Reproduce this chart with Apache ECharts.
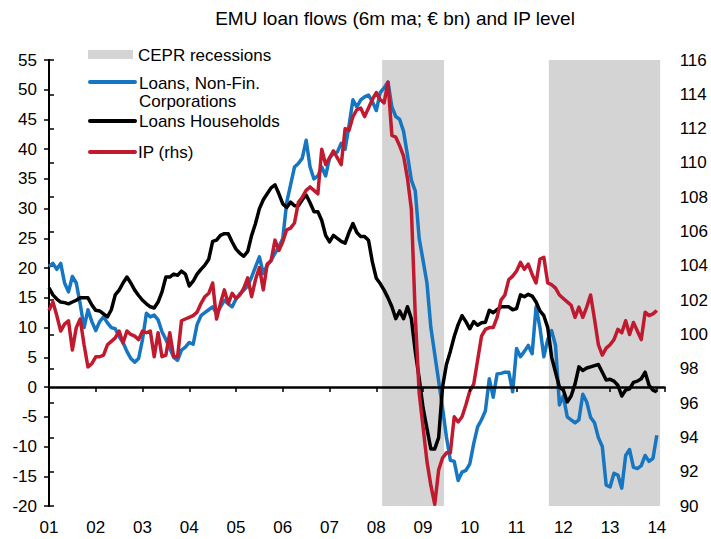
<!DOCTYPE html>
<html>
<head>
<meta charset="utf-8">
<title>EMU loan flows and IP level</title>
<script src="https://cdn.jsdelivr.net/npm/echarts@6/dist/echarts.min.js"></script>
<style>
  html, body { margin: 0; padding: 0; background: #fff; }
  #chart { width: 711px; height: 539px; }
</style>
</head>
<body>
<div id="chart"></div>
<script>
// Monthly observations, January 2001 to January 2014.
const FIRST_YEAR = 2001;
const yearLabels = ['01','02','03','04','05','06','07','08','09','10','11','12','13','14'];

// CEPR euro-area recessions, as decimal years
const recessions = [[2008.125, 2009.45], [2011.69, 2014.07]];

// Loans to non-financial corporations, 6m moving average, EUR bn
const nfcLoans = [
  20.3, 20.8, 19.8, 20.8, 17.5, 16.0, 18.6, 17.5, 14.0, 10.0, 13.0, 11.0,
  9.5, 11.0, 11.8, 10.8, 10.0, 9.8, 8.5, 7.5, 6.0, 4.8, 4.2, 4.8,
  8.0, 12.4, 11.8, 12.1, 11.3, 9.3, 8.0, 6.5, 5.0, 4.5, 6.2, 6.7,
  7.5, 7.2, 10.5, 12.0, 12.5, 13.0, 13.5, 12.4, 13.5, 14.6, 14.0, 13.5,
  14.8, 15.7, 16.3, 17.0, 18.5, 20.2, 21.9, 19.1, 20.5, 21.3, 22.5, 23.6,
  25.0, 31.0, 34.0, 37.0, 37.6, 38.5, 41.5, 37.0, 35.0, 35.5, 37.0, 35.5,
  38.5, 39.3, 39.5, 41.0, 40.0, 44.0, 48.3, 47.1, 48.3, 48.8, 49.1, 48.0,
  46.5, 49.5, 50.3, 51.3, 47.1, 45.5, 45.0, 43.0, 39.0, 34.8, 33.0, 25.0,
  21.3, 17.5, 10.0, 5.5, 1.0, -3.5, -8.4, -12.3, -12.5, -15.7, -14.3, -14.0,
  -12.9, -9.5, -6.7, -5.5, -4.0, 1.4, -1.7, 2.2, 2.3, 2.5, 2.5, -0.8,
  6.5, 5.1, 6.0, 7.0, 5.6, 13.5, 10.0, 5.1, 8.0, 9.5, 7.0, -3.0,
  -1.5, -5.0, -5.5, -6.0, -5.5, -1.2, -2.5, -5.1, -6.0, -8.5, -10.0, -16.5,
  -16.8, -14.5, -14.8, -17.0, -11.5, -10.5, -13.5, -13.7, -13.2, -11.5, -12.5, -12.0,
  -8.1
];

// Loans to households, 6m moving average, EUR bn
const householdLoans = [
  16.7, 15.5, 14.8, 14.3, 14.2, 14.0, 14.3, 14.6, 15.0, 15.0, 15.0, 13.8,
  12.9, 12.8, 12.3, 11.8, 13.0, 15.5, 16.3, 17.5, 18.5, 17.5, 16.3, 15.4,
  14.6, 14.0, 13.5, 13.3, 14.3, 16.0, 18.5, 18.5, 19.0, 18.8, 19.5, 19.0,
  17.0, 17.8, 19.0, 19.8, 20.5, 21.5, 24.5, 24.7, 25.5, 25.8, 25.8, 24.4,
  23.2, 22.5, 22.0, 22.8, 25.5, 27.5, 30.0, 31.5, 32.5, 33.5, 34.0, 32.5,
  30.8, 30.2, 31.1, 30.5, 30.5, 31.5, 32.3, 31.0, 29.5, 29.5, 28.0, 25.5,
  24.4, 25.5, 25.0, 24.5, 24.2, 26.0, 27.5, 26.0, 25.3, 25.3, 24.7, 21.0,
  18.3, 17.4, 16.3, 15.0, 13.5, 11.5, 12.8, 11.5, 13.5, 11.5, 6.0, 1.5,
  -3.5, -7.0, -10.4, -10.4, -8.5, 0.0, 3.8, 6.0, 8.5, 10.5, 12.0, 11.0,
  9.8, 11.0, 10.4, 10.8, 10.9, 12.9, 12.5, 13.0, 13.5, 13.5, 13.5, 13.0,
  13.2, 15.5, 15.2, 15.6, 15.3, 14.3, 12.8, 12.0, 10.0, 5.0, 2.5, 0.0,
  -0.5, -2.5, -1.5, 0.5, 3.4, 2.8, 3.2, 3.4, 3.6, 3.8, 2.5, 1.2,
  1.3, 1.0, 0.3, -1.5, -0.5, -0.3, 0.8, 1.0, 1.4, 2.5, 0.3, -0.5,
  -0.8
];

// Industrial production index (right-hand scale)
const ipLevel = [
  101.4, 101.9, 101.1, 100.2, 100.6, 100.8, 99.1, 100.4, 100.9, 99.4, 98.1, 98.3,
  98.7, 98.7, 98.8, 99.4, 99.6, 99.8, 100.2, 99.5, 100.2, 100.0, 99.9, 99.7,
  100.2, 100.1, 100.2, 98.7, 100.1, 98.7, 98.8, 100.1, 98.7, 98.7, 100.8, 100.9,
  101.0, 101.1, 101.3, 101.8, 102.2, 102.4, 103.0, 100.9, 101.8, 102.6, 101.8, 102.4,
  102.1, 102.3, 102.7, 103.3, 102.2, 103.2, 103.9, 102.6, 104.1, 104.3, 105.5, 104.9,
  105.4, 106.1, 106.2, 106.5, 107.7, 108.0, 108.4, 108.6, 108.4, 108.2, 110.8, 109.9,
  110.3, 110.7, 110.3, 109.9, 112.0, 111.9, 112.7, 113.1, 113.2, 112.7, 113.2, 113.7,
  114.1, 113.7, 113.5, 114.7, 111.6, 111.5, 111.0, 110.4, 109.1, 107.3, 101.1, 96.6,
  94.6, 92.6, 91.2, 90.1, 92.1, 92.8, 93.1, 93.1, 95.2, 94.9, 95.2, 95.9,
  96.7, 97.1, 98.5, 99.9, 100.3, 100.4, 100.4, 101.0, 102.0, 102.3, 103.2, 103.4,
  103.7, 104.2, 103.8, 104.1, 103.5, 103.0, 104.4, 104.5, 103.0, 102.9, 102.7, 102.3,
  102.1, 101.9, 101.7, 101.0, 101.6, 101.0, 101.6, 102.3, 100.9, 99.4, 98.8, 99.2,
  99.4, 99.7, 100.3, 100.1, 100.8, 100.0, 100.7, 100.2, 99.7, 101.3, 101.1, 101.2,
  101.4
];

const FONT = "'Liberation Sans', Arial, Helvetica, sans-serif";
const BLUE = '#1676c2';
const RED = '#c11a2f';
const SHADE = '#d4d4d4';

// x positions are months since January of FIRST_YEAR
const toMonth = y => (y - FIRST_YEAR) * 12;
const pairs = arr => arr.map((v, i) => [i, v]);
const LAST_MONTH = 158;

const chart = echarts.init(document.getElementById('chart'), null, { renderer: 'svg' });

const axisText = { color: '#000', fontSize: 17, fontFamily: FONT };
const axisLine = { show: true, lineStyle: { color: '#000', width: 2 } };
const axisTick = { show: true, length: 5, lineStyle: { color: '#000', width: 1.5 } };

chart.setOption({
  animation: false,
  backgroundColor: '#fff',
  grid: { left: 49, right: 46, top: 60, bottom: 33, containLabel: false },
  xAxis: [
    {
      type: 'value', min: 0, max: LAST_MONTH, interval: 12,
      axisLine: { show: false }, axisTick: { show: false }, splitLine: { show: false },
      axisLabel: {
        ...axisText, margin: 13,
        formatter: v => (v % 12 === 0 && yearLabels[v / 12]) ? yearLabels[v / 12] : ''
      }
    },
    {
      type: 'value', min: 0, max: LAST_MONTH, interval: 12, position: 'bottom', z: 5,
      axisLine: { show: true, onZero: true, onZeroAxisIndex: 0, lineStyle: { color: '#000', width: 2.5 } },
      axisTick: axisTick, axisLabel: { show: false }, splitLine: { show: false }
    }
  ],
  yAxis: [
    {
      type: 'value', min: -20, max: 55, interval: 5, position: 'left',
      axisLine: axisLine, axisTick: axisTick, splitLine: { show: false },
      axisLabel: { ...axisText, margin: 12 }
    },
    {
      type: 'value', min: 90, max: 116, interval: 2, position: 'right',
      axisLine: axisLine, axisTick: axisTick, splitLine: { show: false },
      axisLabel: { ...axisText, margin: 15 }
    }
  ],
  series: [
    {
      name: 'CEPR recessions', type: 'line', data: [], silent: true,
      markArea: {
        silent: true,
        itemStyle: { color: SHADE },
        data: recessions.map(([a, b]) => [{ xAxis: toMonth(a) }, { xAxis: toMonth(b) }])
      }
    },
    {
      name: 'Loans, Non-Fin. Corporations', type: 'line', data: pairs(nfcLoans),
      yAxisIndex: 0, showSymbol: false, symbol: 'none',
      lineStyle: { color: BLUE, width: 3.5, join: 'round' }
    },
    {
      name: 'Loans Households', type: 'line', data: pairs(householdLoans),
      yAxisIndex: 0, showSymbol: false, symbol: 'none',
      lineStyle: { color: '#000', width: 3.5, join: 'round' }
    },
    {
      name: 'IP (rhs)', type: 'line', data: pairs(ipLevel),
      yAxisIndex: 1, showSymbol: false, symbol: 'none',
      lineStyle: { color: RED, width: 3.5, join: 'round' }
    }
  ],
  graphic: [
    {
      type: 'text', x: 395, y: 18,
      style: { text: 'EMU loan flows (6m ma; € bn) and IP level', font: '19px ' + FONT,
               fill: '#000', textAlign: 'center', textVerticalAlign: 'middle' }
    },
    { type: 'rect', shape: { x: 88, y: 50, width: 45, height: 9 }, style: { fill: SHADE } },
    { type: 'text', x: 138, y: 55,
      style: { text: 'CEPR recessions', font: '17px ' + FONT, fill: '#000', textVerticalAlign: 'middle' } },
    { type: 'line', shape: { x1: 90, y1: 82, x2: 135, y2: 82 },
      style: { stroke: BLUE, lineWidth: 4, lineCap: 'round' } },
    { type: 'text', x: 139, y: 83,
      style: { text: 'Loans, Non-Fin.', font: '17px ' + FONT, fill: '#000', textVerticalAlign: 'middle' } },
    { type: 'text', x: 139, y: 101,
      style: { text: 'Corporations', font: '17px ' + FONT, fill: '#000', textVerticalAlign: 'middle' } },
    { type: 'line', shape: { x1: 90, y1: 121, x2: 135, y2: 121 },
      style: { stroke: '#000', lineWidth: 4, lineCap: 'round' } },
    { type: 'text', x: 139, y: 121,
      style: { text: 'Loans Households', font: '17px ' + FONT, fill: '#000', textVerticalAlign: 'middle' } },
    { type: 'line', shape: { x1: 90, y1: 152, x2: 135, y2: 152 },
      style: { stroke: RED, lineWidth: 4, lineCap: 'round' } },
    { type: 'text', x: 138, y: 152,
      style: { text: 'IP (rhs)', font: '17px ' + FONT, fill: '#000', textVerticalAlign: 'middle' } }
  ]
});
</script>
</body>
</html>
